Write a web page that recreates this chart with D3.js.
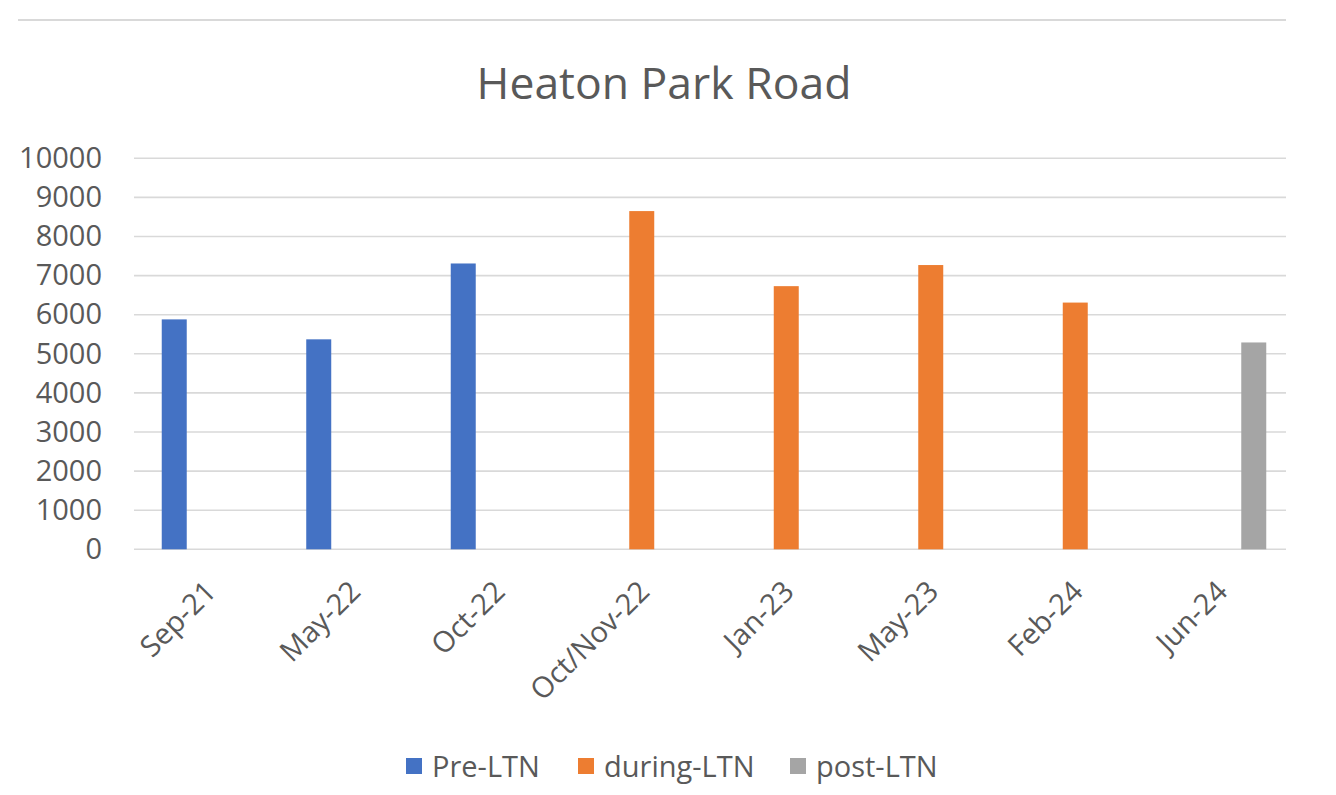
<!DOCTYPE html>
<html lang="en">
<head>
<meta charset="UTF-8">
<title>Heaton Park Road</title>
<style>
  html, body { margin: 0; padding: 0; background: #fff; }
  svg text { font-family: "Open Sans", "Noto Sans", sans-serif; fill: #595959; }
</style>
</head>
<body>
<svg id="chart" width="1336" height="795"></svg>

<script src="https://d3js.org/d3.v7.min.js"></script>
<script>
// --- data ---
const categories = ["Sep-21", "May-22", "Oct-22", "Oct/Nov-22", "Jan-23", "May-23", "Feb-24", "Jun-24"];
const seriesNames = ["Pre-LTN", "during-LTN", "post-LTN"];
const preLTN    = [5880, 5370, 7310, null, null, null, null, null];
const duringLTN = [null, null, null, 8650, 6730, 7270, 6310, null];
const postLTN   = [null, null, null, null, null, null, null, 5290];
const yTicks = [0, 1000, 2000, 3000, 4000, 5000, 6000, 7000, 8000, 9000, 10000];

const colors = ["#4472C4", "#ED7D31", "#A5A5A5"];
const seriesValues = [preLTN, duringLTN, postLTN];

const svg = d3.select("#chart");

// plot area
const gridLeft = 134, gridRight = 1286;
const x0 = d3.scaleBand().domain(categories).range([136, 1292]).paddingInner(0).paddingOuter(0);
const x1 = d3.scaleBand().domain(seriesNames).range([0, x0.bandwidth()])
    .paddingInner(0.265).paddingOuter(0.757);
const y = d3.scaleLinear().domain([0, 10000]).range([549.3, 158.3]);

// top border line
svg.append("line")
    .attr("x1", 18).attr("x2", 1286).attr("y1", 20).attr("y2", 20)
    .attr("stroke", "#d9d9d9").attr("stroke-width", 2);

// title
svg.append("text")
    .attr("x", 664).attr("y", 99)
    .attr("text-anchor", "middle")
    .style("font-size", "44.5px")
    .text("Heaton Park Road");

// gridlines
svg.append("g")
    .selectAll("line")
    .data(yTicks)
    .join("line")
    .attr("x1", gridLeft).attr("x2", gridRight)
    .attr("y1", d => y(d)).attr("y2", d => y(d))
    .attr("stroke", "#d9d9d9").attr("stroke-width", 1.6);

// y axis labels
const yAxis = svg.append("g")
    .attr("transform", `translate(102,0)`)
    .call(d3.axisLeft(y).tickValues(yTicks).tickFormat(d3.format("d")).tickSize(0).tickPadding(0));
yAxis.select(".domain").remove();
yAxis.selectAll("text")
    .style("font-size", "29px")
    .style("font-family", "\"Open Sans\", \"Noto Sans\", sans-serif")
    .attr("fill", "#595959");

// bars
const bars = [];
seriesValues.forEach((vals, si) => {
    vals.forEach((v, ci) => {
        if (v != null) bars.push({ cat: categories[ci], series: seriesNames[si], value: v, color: colors[si] });
    });
});

svg.append("g")
    .selectAll("rect")
    .data(bars)
    .join("rect")
    .attr("x", d => x0(d.cat) + x1(d.series))
    .attr("y", d => y(d.value))
    .attr("width", x1.bandwidth())
    .attr("height", d => y(0) - y(d.value))
    .attr("fill", d => d.color);

// x axis labels, rotated
svg.append("g")
    .selectAll("text")
    .data(categories)
    .join("text")
    .attr("transform", d => `translate(${x0(d) + x0.bandwidth() / 2 - 6},578) rotate(-45)`)
    .attr("text-anchor", "end")
    .attr("dy", "0.75em")
    .style("font-size", "29px")
    .text(d => d);

// legend
const legend = svg.append("g").attr("transform", "translate(406,0)");
const legendOffsets = [0, 172, 384];
seriesNames.forEach((name, i) => {
    const g = legend.append("g").attr("transform", `translate(${legendOffsets[i]},0)`);
    g.append("rect")
        .attr("x", 0).attr("y", 758).attr("width", 16).attr("height", 16)
        .attr("fill", colors[i]);
    g.append("text")
        .attr("x", 26).attr("y", 777)
        .style("font-size", "29px")
        .text(name);
});
</script>
</body>
</html>
